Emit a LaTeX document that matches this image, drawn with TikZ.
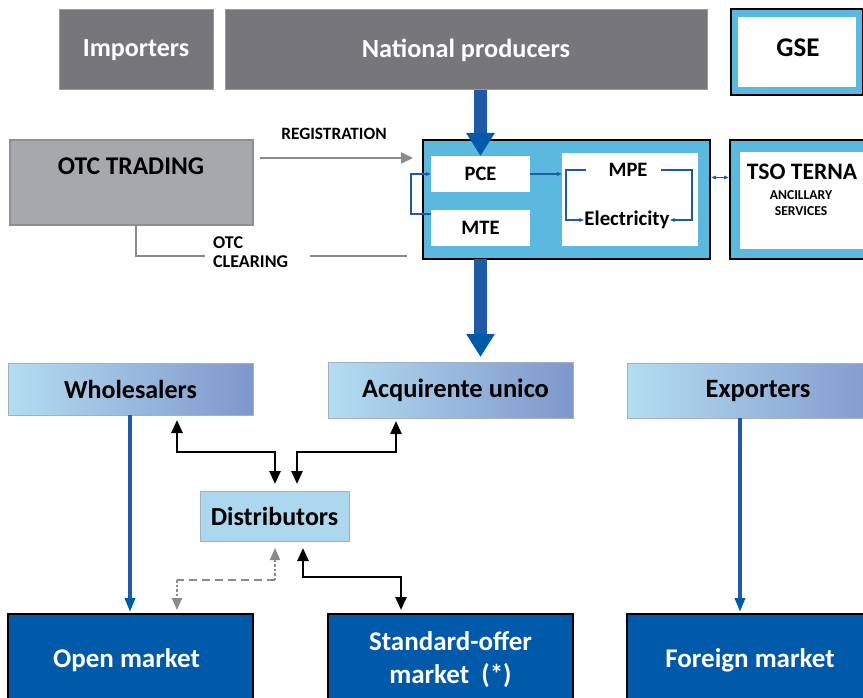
\documentclass[tikz,border=0pt]{standalone}
\usepackage{fontspec}
\setmainfont{Carlito}
\usetikzlibrary{arrows.meta,calc}
\definecolor{gdark}{HTML}{77777B}
\definecolor{gdarkb}{HTML}{9A9A9E}
\definecolor{glight}{HTML}{A7A8AB}
\definecolor{glightb}{HTML}{8E8F92}
\definecolor{skyb}{HTML}{5BB8DF}
\definecolor{navy}{HTML}{0059A9}
\definecolor{arrb}{HTML}{1E5AA5}
\definecolor{gradl}{HTML}{B3DDF1}
\definecolor{gradr}{HTML}{7F97CB}
\definecolor{gradb}{HTML}{A4AEBD}
\definecolor{distf}{HTML}{ADD7EE}
\definecolor{dashg}{HTML}{8A8A8D}
\tikzset{
  box/.style={rectangle, inner sep=0pt, outer sep=0pt, anchor=north west, align=center},
  fs/.style={font=\fontsize{#1}{#1}\selectfont\bfseries},
  topbox/.style={box, fill=gdark, draw=gdarkb, line width=1pt, text=white},
  midbox/.style={box, left color=gradl, right color=gradr, draw=gradb, line width=1pt},
  botbox/.style={box, fill=navy, draw=black, line width=1.2pt, text=white},
  whitebox/.style={box, fill=white},
  bigarrow/.style={draw=arrb, line width=13pt, -{Triangle[length=23pt,width=27pt,color=navy]}},
  thinblue/.style={draw=arrb, line width=1.6pt},
  tinytip/.style={-{Triangle[length=5pt,width=3.5pt]}},
  bluearrow/.style={draw=arrb, line width=3.3pt, -{Triangle[length=14pt,width=10pt,color=navy]}},
  blk/.style={draw=black, line width=2.6pt, {Triangle[length=13pt,width=11pt]}-{Triangle[length=13pt,width=11pt]}},
  grayline/.style={draw=dashg, line width=1.8pt},
}
\begin{document}
\begin{tikzpicture}[x=1pt,y=-1pt]
\useasboundingbox (0,0) rectangle (863,698);
% top row
\node[topbox, minimum width=154pt, minimum height=80pt, fs=26] (imp) at (59,10) {Importers};
\node[topbox, minimum width=482pt, minimum height=80pt, fs=26.3] (np) at (225,10) {National producers};
\node[box, fill=skyb, draw=black, line width=1.2pt, minimum width=132pt, minimum height=86pt] (gse) at (731,9) {};
\node[whitebox, minimum width=118pt, minimum height=70pt] (gsein) at (738,17) {};
\node[fs=27, inner sep=0pt] (gset) at (798,48) {GSE};
% OTC trading
\node[box, fill=glight, draw=glightb, line width=1.5pt, minimum width=243pt, minimum height=85pt] (otc) at (10,140) {};
\node[fs=25.5, inner sep=0pt] (otct) at (131,166) {OTC TRADING};
% market box
\node[box, fill=skyb, draw=black, line width=2.2pt, minimum width=287pt, minimum height=119pt] (mkt) at (423,140) {};
\node[whitebox, minimum width=99pt, minimum height=36pt, fs=20.5] (pce) at (431,156) {PCE};
\node[whitebox, minimum width=99pt, minimum height=36pt, fs=20.5] (mte) at (431,210) {MTE};
\node[whitebox, minimum width=136pt, minimum height=93pt] (mpe) at (562,153) {};
\node[fs=20.5, inner sep=0pt] (mpet) at (628,170) {MPE};
\node[fs=20.8, inner sep=0pt] (elec) at (627,220) {Electricity};
% TSO
\node[box, fill=skyb, draw=black, line width=2.2pt, minimum width=135pt, minimum height=119pt] (tso) at (730,140) {};
\node[whitebox, minimum width=125pt, minimum height=97pt] (tsoin) at (740,152) {};
\node[fs=23.6, inner sep=0pt] (tsot) at (802,172) {TSO TERNA};
\node[fs=13.6, inner sep=0pt, align=center] (tsos) at (801,203) {ANCILLARY\\[2.5pt]SERVICES};
% labels
\node[fs=17.3, inner sep=0pt] (reg) at (334,134) {REGISTRATION};
\node[fs=18, inner sep=0pt, align=left, anchor=west] (clr) at (213,252) {OTC\\[1pt]CLEARING};
% middle row
\node[midbox, minimum width=245pt, minimum height=52pt, fs=26] (whl) at (8,363) {Wholesalers};
\node[midbox, minimum width=245pt, minimum height=56pt, fs=26.5] (acq) at (328,362) {\hspace*{10pt}Acquirente unico};
\node[midbox, minimum width=262pt, minimum height=55pt, fs=26.5] (exp) at (627,363) {Exporters};
\node[box, fill=distf, draw=gradb, line width=1pt, minimum width=149pt, minimum height=50pt, fs=26] (dist) at (200,491) {Distributors};
% bottom row
\node[botbox, minimum width=245pt, minimum height=92pt, fs=27] (open) at (8,614) {Open market\hspace*{8pt}};
\node[botbox, minimum width=245pt, minimum height=92pt, fs=27] (std) at (328,614) {Standard-offer\\[6pt]market~~(*)};
\node[botbox, minimum width=246pt, minimum height=92pt, fs=27] (frg) at (627,614) {Foreign market};
% big blue arrows
\draw[bigarrow] (np.south -| pce.north) -- (pce.north);
\draw[bigarrow, shorten >=5pt] (mkt.south -| pce.north) -- (acq.north -| pce.north);
% registration
\draw[grayline, -{Triangle[length=12pt,width=11pt]}] ($(otc.north east)+(7,18)$) -- ($(mkt.north west)+(-10,18)$);
% OTC clearing
\coordinate (c1) at (136,256);
\coordinate (c2) at (205,256);
\coordinate (c3) at (310,256);
\draw[grayline] (otc.south -| c1) |- (c2);
\draw[grayline] (c3) -- ($(mkt.west |- c1)+(-16,0)$);
% inner blue links
\draw[thinblue, tinytip] ($(mte.west)+(0,-14)$) -- ++(-20,0) |- (pce.west);
\draw[thinblue, tinytip] (pce.east) -- (mpe.west |- pce.east);
\draw[thinblue, tinytip] ($(mpet.west)+(-22,0)$) -- (566,170) |- (elec.west);
\draw[thinblue, tinytip] ($(mpet.east)+(13,0)$) -- (692,170) |- (elec.east);
\draw[thinblue, {Triangle[length=5pt,width=3.5pt]}-{Triangle[length=5pt,width=3.5pt]}] ($(mkt.east)+(1,-22)$) -- ($(tso.west)+(-1,-22)$);
% blue vertical arrows
\coordinate (v1) at (130,0);
\coordinate (v2) at (740,0);
\draw[bluearrow, shorten >=2pt] (whl.south -| v1) -- (open.north -| v1);
\draw[bluearrow, shorten >=2pt] (exp.south -| v2) -- (frg.north -| v2);
% black double arrows
\coordinate (j1) at (177,452);
\coordinate (j2) at (396,452);
\coordinate (d1) at (275,0);
\coordinate (d2) at (297,0);
\draw[blk, shorten <=5pt, shorten >=7pt] (whl.south -| j1) -- (j1) -| (dist.north -| d1);
\draw[blk, shorten <=3pt, shorten >=7pt] ($(acq.north -| j2)+(0,56)$) -- (j2) -| (dist.north -| d2);
% lower links
\coordinate (k1) at (275,580);
\coordinate (k2) at (177,580);
\draw[grayline, dash pattern=on 2.5pt off 2pt, {Triangle[length=12pt,width=10pt]}-, shorten <=7pt] (dist.south -| k1) -- (k1);
\draw[grayline, dash pattern=on 8pt off 5pt] (k1) -- (k2);
\draw[grayline, dash pattern=on 2.5pt off 2pt, -{Triangle[length=12pt,width=10pt]}, shorten >=4pt] (k2) -- (open.north -| k2);
\coordinate (m1) at (303,577);
\coordinate (m2) at (401,577);
\draw[blk, shorten <=7pt, shorten >=4pt] (dist.south -| m1) -- (m1) -| (std.north -| m2);
\end{tikzpicture}
\end{document}
